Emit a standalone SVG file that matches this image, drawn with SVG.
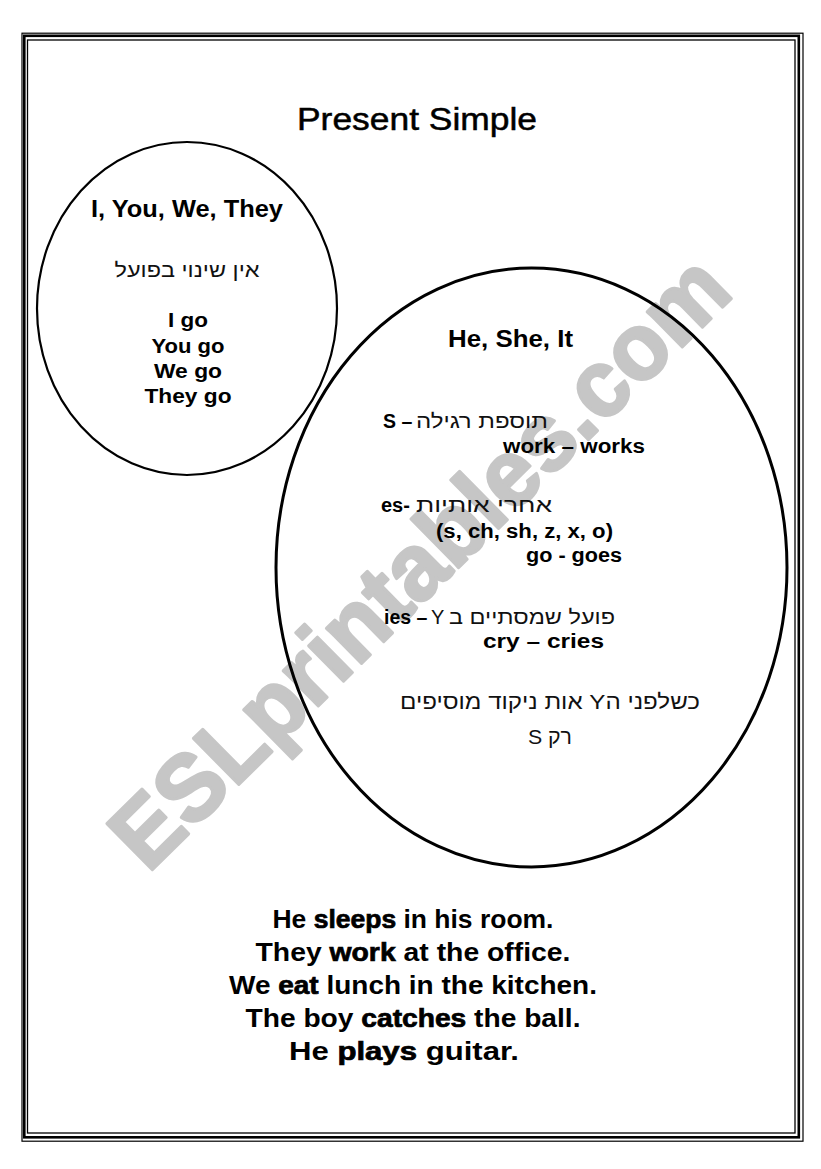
<svg xmlns="http://www.w3.org/2000/svg" width="821" height="1169" viewBox="0 0 821 1169">
<style>
.b{font-family:"Liberation Sans",Arial,sans-serif;font-weight:bold;fill:#000}
.r{font-family:"Liberation Sans",Arial,sans-serif;font-weight:normal;fill:#000}
.he{font-family:"Liberation Sans","DejaVu Sans",sans-serif;font-weight:normal;fill:#111}
.v{stroke:#000;stroke-width:0.7}
.node{fill:none;stroke:#000}
.wm{font-family:"Liberation Sans",Arial,sans-serif;font-weight:bold;fill:#c6c6c6;stroke:#c6c6c6;stroke-width:3;stroke-linejoin:round}
</style>
<rect width="821" height="1169" fill="#fff"/>
<g id="watermark">
<text class="wm" font-size="94" transform="translate(148 874) rotate(-44.6)" x="0" y="0" textLength="825" lengthAdjust="spacingAndGlyphs">ESLprintables.com</text>
</g>
<g id="border" fill="none" stroke="#000">
<rect x="22" y="33.2" width="781" height="1108" stroke-width="1.2"/>
<rect x="24.3" y="35.8" width="774.5" height="1101.5" stroke-width="2.6"/>
<rect x="27.5" y="40" width="767.5" height="1093" stroke-width="1.3"/>
</g>
<g id="title">
<text class="r" font-size="31" x="417" y="130" text-anchor="middle" textLength="240" lengthAdjust="spacingAndGlyphs" stroke="#000" stroke-width="0.5">Present Simple</text>
</g>
<g id="connectors"></g>
<g id="node-i-you-we-they">
<ellipse class="node" cx="187" cy="308.5" rx="150" ry="166.5" stroke-width="2.2"/>
<text class="b" font-size="23" x="187" y="217" text-anchor="middle" textLength="192" lengthAdjust="spacingAndGlyphs">I, You, We, They</text>
<text class="he" font-size="20" x="187" y="277" text-anchor="middle" textLength="145" lengthAdjust="spacingAndGlyphs">אין שינוי בפועל</text>
<text class="b" font-size="19.5" x="188" y="327" text-anchor="middle" textLength="40" lengthAdjust="spacingAndGlyphs">I go</text>
<text class="b" font-size="19.5" x="188" y="352.5" text-anchor="middle" textLength="73" lengthAdjust="spacingAndGlyphs">You go</text>
<text class="b" font-size="19.5" x="188" y="378" text-anchor="middle" textLength="68" lengthAdjust="spacingAndGlyphs">We go</text>
<text class="b" font-size="19.5" x="188" y="403" text-anchor="middle" textLength="87" lengthAdjust="spacingAndGlyphs">They go</text>
</g>
<g id="node-he-she-it">
<ellipse class="node" cx="531.5" cy="567.5" rx="255.5" ry="299.5" stroke-width="3"/>
<text class="b" font-size="23" x="448" y="347" textLength="125" lengthAdjust="spacingAndGlyphs">He, She, It</text>
<text class="b" font-size="19.5" x="383" y="428">S –</text>
<text class="he" font-size="20" x="548" y="428" text-anchor="end" textLength="132" lengthAdjust="spacingAndGlyphs">תוספת רגילה</text>
<text class="b" font-size="20" x="503" y="453" textLength="142" lengthAdjust="spacingAndGlyphs">work – works</text>
<text class="b" font-size="20" x="381" y="512">es-</text>
<text class="he" font-size="20" x="552" y="512" text-anchor="end" textLength="136" lengthAdjust="spacingAndGlyphs">אחרי אותיות</text>
<text class="b" font-size="20" x="436" y="538" textLength="177" lengthAdjust="spacingAndGlyphs">(s, ch, sh, z, x, o)</text>
<text class="b" font-size="20" x="526" y="562" textLength="96" lengthAdjust="spacingAndGlyphs">go - goes</text>
<text class="b" font-size="19.5" x="384" y="624">ies –</text>
<text class="he" font-size="20" x="431" y="624">Y</text>
<text class="he" font-size="20" x="615" y="624" text-anchor="end" textLength="166" lengthAdjust="spacingAndGlyphs">פועל שמסתיים ב</text>
<text class="b" font-size="20" x="483" y="648" textLength="121" lengthAdjust="spacingAndGlyphs">cry – cries</text>
<text class="he" font-size="21" x="700" y="709" direction="rtl" text-anchor="start" textLength="300" lengthAdjust="spacingAndGlyphs">כשלפני  הY אות ניקוד מוסיפים</text>
<text class="he" font-size="21" x="572" y="744" direction="rtl" text-anchor="start" textLength="44" lengthAdjust="spacingAndGlyphs">רק S</text>
</g>
<g id="sentences" class="b" font-size="25" text-anchor="middle">
<text x="413" y="928" textLength="281" lengthAdjust="spacingAndGlyphs">He <tspan class="v">sleeps</tspan> in his room.</text>
<text x="413" y="961" textLength="315" lengthAdjust="spacingAndGlyphs">They <tspan class="v">work</tspan> at the office.</text>
<text x="413" y="994" textLength="368" lengthAdjust="spacingAndGlyphs">We <tspan class="v">eat</tspan> lunch in the kitchen.</text>
<text x="413" y="1027" textLength="335" lengthAdjust="spacingAndGlyphs">The boy <tspan class="v">catches</tspan> the ball.</text>
<text x="404" y="1060" textLength="230" lengthAdjust="spacingAndGlyphs">He <tspan class="v">plays</tspan> guitar.</text>
</g>
</svg>
